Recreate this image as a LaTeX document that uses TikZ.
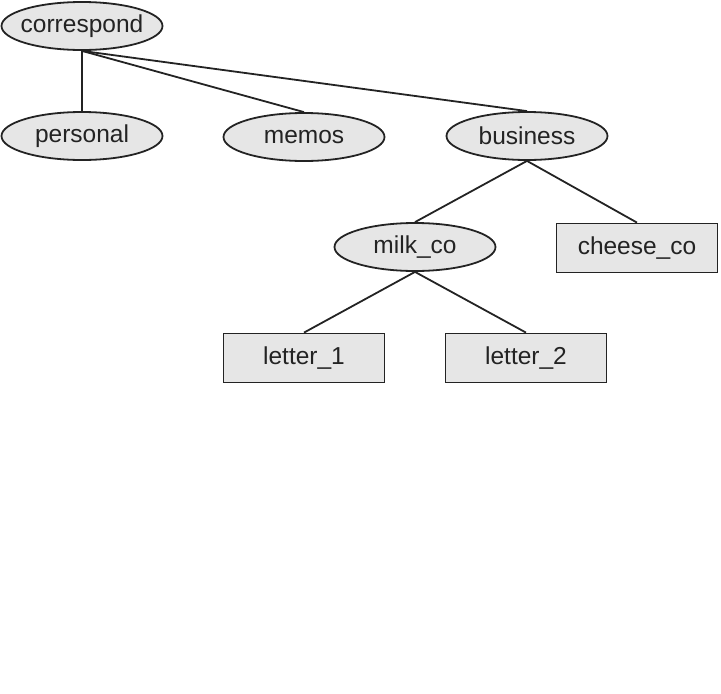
\documentclass[tikz,border=0pt]{standalone}
\usepackage{fontspec}
\setmainfont{Liberation Sans}
\usetikzlibrary{shapes.geometric}
\definecolor{boxfill}{RGB}{230,230,230}
\definecolor{ink}{RGB}{35,35,35}
\newcommand{\zw}[1]{\makebox[0pt]{#1}}
\begin{document}
\begin{tikzpicture}[x=1pt,y=-1pt,
  dirnode/.style={ellipse,draw=ink,fill=boxfill,line width=1.8pt,minimum width=161pt,minimum height=48pt,inner sep=0pt,font=\fontsize{24.5}{28}\selectfont,text=ink},
  filenode/.style={rectangle,draw=ink,fill=boxfill,line width=1.8pt,minimum width=161pt,minimum height=49pt,inner sep=0pt,font=\fontsize{24.5}{28}\selectfont,text=ink},
  link/.style={draw=ink,line width=1.8pt}]
\useasboundingbox (0,0) rectangle (721,694);
\node[dirnode] (correspond) at (82,26) {\zw{correspond}};
\node[dirnode] (personal) at (82,136) {\zw{personal}};
\node[dirnode] (memos) at (304,137) {\zw{memos}};
\node[dirnode] (business) at (527,136) {\zw{business}};
\node[dirnode] (milk) at (415,247) {\zw{milk\_co}};
\node[filenode] (cheese) at (637,248) {\zw{cheese\_co}};
\node[filenode] (letter1) at (304,358) {\zw{letter\_1}};
\node[filenode] (letter2) at (526,358) {\zw{letter\_2}};
\draw[link] (correspond.south) -- (personal.north);
\draw[link] (correspond.south) -- (memos.north);
\draw[link] (correspond.south) -- (business.north);
\draw[link] (business.south) -- (milk.north);
\draw[link] (business.south) -- (cheese.north);
\draw[link] (milk.south) -- (letter1.north);
\draw[link] (milk.south) -- (letter2.north);
\end{tikzpicture}
\end{document}
